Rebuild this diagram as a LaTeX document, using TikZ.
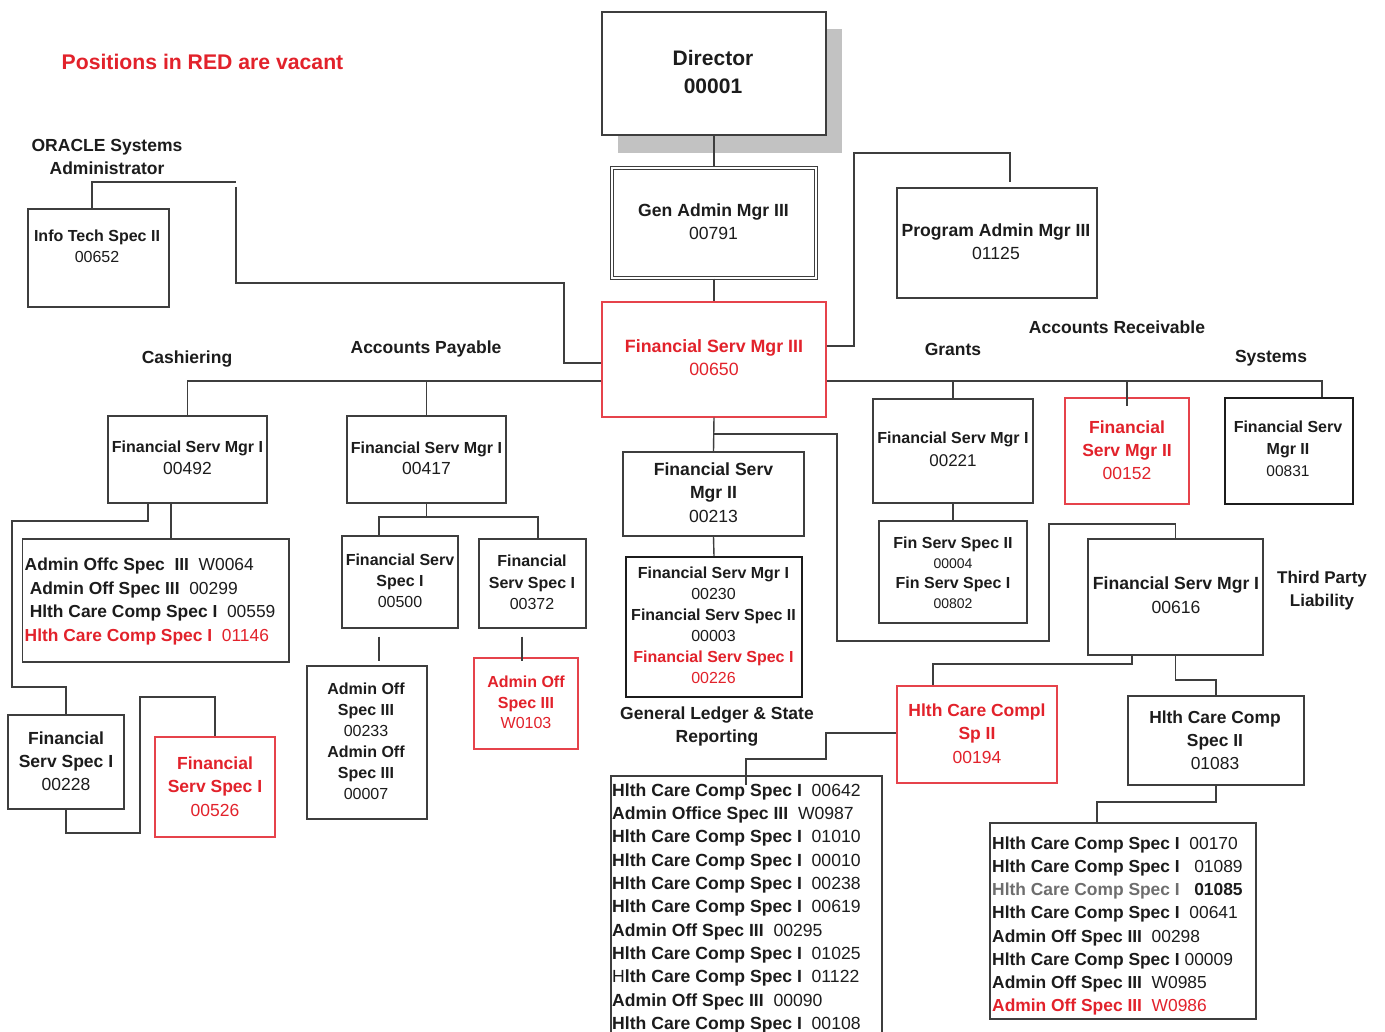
\documentclass[tikz,border=0pt]{standalone}
\usepackage{fontspec}
\setmainfont{Liberation Sans}
\usetikzlibrary{fit}
\definecolor{ink}{HTML}{1C1C1C}
\definecolor{vac}{HTML}{E2222B}
\definecolor{edge}{HTML}{3E3E3E}
\definecolor{shadowgray}{HTML}{C2C2C2}
\definecolor{faded}{HTML}{6E6E6E}
\newcommand\fsz[2]{\fontsize{#1}{#2}\selectfont}
\newcommand\numtxt[2][17]{{\fontsize{#1}{#1}\selectfont #2}}
\begin{document}
\begin{tikzpicture}[x=1pt,y=-1pt,
  box/.style={draw=edge, line width=1.3pt, fill=white, inner sep=0pt},
  vbox/.style={box, draw=vac!85!white},
  heavy/.style={box, draw=ink, line width=2pt},
  conn/.style={draw=edge, line width=1.4pt},
  txt/.style={inner sep=0pt, align=center, text=ink},
  vtxt/.style={txt, text=vac},
  head/.style={txt, font=\fsz{17.5}{23}\bfseries},
  row/.style={inner sep=0pt, anchor=base west, text=ink},
]
\useasboundingbox (0,0) rectangle (1385,1032);
\clip (0,0) rectangle (1385,1032);
\fill[white] (0,0) rectangle (1385,1032);

% ---------- boxes ----------
\fill[fill=shadowgray] (618,29) rectangle (842,153);
\node[box, fit={(602,12) (826,135)}] (dir) {};
\node[box, double=white, double distance=1.6pt, line width=1.1pt, fit={(611.9,167.9) (816.1,278.1)}] (gen) {};
\node[vbox, fit={(602,302) (826,417)}] (fsm3) {};
\node[box, fit={(897,188) (1097,298)}] (prog) {};
\node[box, fit={(28,209) (169,307)}] (itech) {};
\node[box, fit={(108,416) (267,503)}] (b492) {};
\node[box, fit={(347,416) (506,503)}] (b417) {};
\node[box, fit={(873,399) (1033,503)}] (b221) {};
\node[vbox, fit={(1065,398) (1189,504)}] (b152) {};
\node[heavy, fit={(1225,398) (1353,504)}] (b831) {};
\node[box, fit={(22.5,539) (289,662)}] (clist) {};
\node[box, fit={(8,715) (124,809)}] (b228) {};
\node[vbox, fit={(155,737) (275,837)}] (b526) {};
\node[box, fit={(342,536) (458,628)}] (b500) {};
\node[box, fit={(479,539) (586,628)}] (b372) {};
\node[box, fit={(307,666) (427,819)}] (aoff) {};
\node[vbox, fit={(474,658) (578,749)}] (w103) {};
\node[box, fit={(623,452) (804,536)}] (b213) {};
\node[heavy, fit={(626,557) (802,697)}] (glist) {};
\node[box, fit={(879,521) (1027,623)}] (b802) {};
\node[box, fit={(1088,539) (1263,655)}] (b616) {};
\node[vbox, fit={(897,686) (1057,783)}] (b194) {};
\node[box, fit={(1128,696) (1304,785)}] (b083) {};
\node[box, fit={(611,776) (882,1050)}] (blist) {};
\node[box, fit={(990,823) (1256,1019)}] (hlist) {};

% ---------- connectors ----------
\draw[conn] (dir.south) -- (gen.north);
\draw[conn] (gen.south) -- (fsm3.north);
\draw[conn, shorten >=5pt] ([yshift=13.5pt]fsm3.east) -- (854,346) -- (854,153) -| (prog.north -| 1010,0);

\coordinate (orA) at (236,182);
\coordinate (orB) at (236,187);
\draw[conn] ([xshift=-6.5pt]itech.north) |- (orA);
\draw[conn] (orB) -- (236,283) -| (564,363) -- (fsm3.west |- 0,363);

\draw[conn] (fsm3.west |- 0,381) -| (b492.north);
\draw[conn] (b417.north |- 0,381) -- (b417.north);
\draw[conn] (fsm3.east |- 0,381) -| (b831.north -| 1322,0);
\draw[conn] (b221.north |- 0,381) -- (b221.north);
\draw[conn] (b152.north |- 0,381) -- ([yshift=-9pt]b152.north);

\draw[conn] ([xshift=-39.5pt]b492.south) |- (12,521) -- (12,687) -| (b228.north);
\draw[conn] ([xshift=-16.5pt]b492.south) -- (clist.north -| 171,0);
\draw[conn] (b228.south) |- (140,833) -- (140,697) -| (b526.north);

\draw[conn] (b417.south) -- (b417.south |- 0,517);
\draw[conn] (b500.north -| 379,0) |- (538,517) -- (b372.north -| 538,0);
\draw[conn, shorten <=8pt, shorten >=4pt] (b500.south -| 379,0) -- (aoff.north -| 379,0);
\draw[conn, shorten <=8pt, shorten >=-4pt] (b372.south -| 522,0) -- (w103.north -| 522,0);

\draw[conn] (fsm3.south) -- (b213.north);
\coordinate (gj) at (714,434);
\draw[conn] (gj) -- (837,434) -- (837,641) -- (1049,641) -- (1049,524) -| (b616.north);
\draw[conn] (b213.south) -- (glist.north);

\draw[conn] (b221.south) -- (b802.north);

\draw[conn] ([xshift=-43.5pt]b616.south) |- (933,664) -- (b194.north -| 933,0);
\draw[conn] (b616.south) |- (1216,680) -- (b083.north);
\draw[conn] ([yshift=1.5pt]b194.west) -- (826,733) -- (826,759) -- (746,759) -- (blist.north -| 746,0) -- ++(0,10);
\draw[conn] (b083.south) |- (1097,802) -- (hlist.north -| 1097,0);

% ---------- headings and section labels ----------
\node[txt, text=vac, font=\fsz{21.2}{25}\bfseries] (legend) at (202.5,62) {Positions in RED are vacant};
\node[head] (oracle) at (107,156.5) {ORACLE Systems\\Administrator};
\node[head] (lcash) at (187,359) {Cashiering};
\node[head] (lap) at (426,349) {Accounts Payable};
\node[head] (lgr) at (953,349) {Grants};
\node[head] (lar) at (1117,327) {Accounts Receivable};
\node[head] (lsys) at (1271,358) {Systems};
\node[head, font=\fsz{17}{23}\bfseries] (ltpl) at (1322,590.5) {Third Party\\Liability};
\node[head, font=\fsz{17.5}{23.5}\bfseries] (lgl) at (717,726.5) {General Ledger \& State\\Reporting};

% ---------- box texts ----------
\node[txt, font=\fsz{21}{28}\bfseries] (tdir) at (713,72) {Director\\00001};
\node[txt, font=\fsz{17.6}{23}] (tgen) at (713.5,221.5) {\textbf{Gen Admin Mgr III}\\00791};
\node[vtxt, font=\fsz{17.8}{23}] (tfsm3) at (714,357.5) {\textbf{Financial Serv Mgr III}\\00650};
\node[txt, font=\fsz{17.6}{23}] (tprog) at (996,241.5) {\textbf{Program Admin Mgr III}\\01125};
\node[txt, font=\fsz{16}{21}] (titech) at (97,246.5) {\textbf{Info Tech Spec II}\\00652};

\node[txt, font=\fsz{16}{22}] (t492) at (187.5,458) {\textbf{Financial Serv Mgr I}\\\numtxt[17.5]{00492}};
\node[txt, font=\fsz{16}{21}] (t417) at (426.5,458.5) {\textbf{Financial Serv Mgr I}\\\numtxt[17.5]{00417}};
\node[txt, font=\fsz{16}{23}] (t221) at (953,449.5) {\textbf{Financial Serv Mgr I}\\\numtxt{00221}};
\node[vtxt, font=\fsz{17.5}{23}] (t152) at (1127,450) {\textbf{Financial}\\\textbf{Serv Mgr II}\\00152};
\node[txt, font=\fsz{16}{22}] (t831) at (1288,449) {\textbf{Financial Serv}\\\textbf{Mgr II}\\\numtxt[15.5]{00831}};

\node[txt, font=\fsz{17.5}{23}] (t228) at (66,761) {\textbf{Financial}\\\textbf{Serv Spec I}\\00228};
\node[vtxt, font=\fsz{17.5}{23.5}] (t526) at (215,786.5) {\textbf{Financial}\\\textbf{Serv Spec I}\\00526};
\node[txt, font=\fsz{16}{21}] (t500) at (400,581) {\textbf{Financial Serv}\\\textbf{Spec I}\\00500};
\node[txt, font=\fsz{16}{21.5}] (t372) at (532,582.5) {\textbf{Financial}\\\textbf{Serv Spec I}\\00372};
\node[txt, font=\fsz{16}{21}] (taoff) at (366,741.5) {\textbf{Admin Off}\\\textbf{Spec III}\\00233\\\textbf{Admin Off}\\\textbf{Spec III}\\00007};
\node[vtxt, font=\fsz{16}{20.5}] (tw103) at (526,702.5) {\textbf{Admin Off}\\\textbf{Spec III}\\W0103};

\node[txt, font=\fsz{17.6}{23.5}] (t213) at (713.5,492.5) {\textbf{Financial Serv}\\\textbf{Mgr II}\\00213};
\node[txt, font=\fsz{16}{21}] (tgl) at (713.5,625.5) {\textbf{Financial Serv Mgr I}\\00230\\\textbf{Financial Serv Spec II}\\00003\\\textcolor{vac}{\textbf{Financial Serv Spec I}}\\\textcolor{vac}{00226}};
\node[txt, font=\fsz{16}{20}] (t802) at (953,573) {\textbf{Fin Serv Spec II}\\\numtxt[14]{00004}\\\textbf{Fin Serv Spec I}\\\numtxt[14]{00802}};
\node[txt, font=\fsz{17.6}{24}] (t616) at (1176,595) {\textbf{Financial Serv Mgr I}\\00616};
\node[vtxt, font=\fsz{17.5}{23.5}] (t194) at (977,733.5) {\textbf{Hlth Care Compl}\\\textbf{Sp II}\\00194};
\node[txt, font=\fsz{17.4}{23}] (t083) at (1215,740) {\textbf{Hlth Care Comp}\\\textbf{Spec II}\\01083};

% ---------- staff lists ----------
\node[row, font=\fsz{17.4}{20}] (c1) at (24.5,570.3) {\textbf{Admin Offc Spec\ \ III}\ \ W0064};
\node[row, font=\fsz{17.4}{20}] (c2) at (29.6,594.3) {\textbf{Admin Off Spec III}\ \ 00299};
\node[row, font=\fsz{17.4}{20}] (c3) at (29.6,617.3) {\textbf{Hlth Care Comp Spec I}\ \ 00559};
\node[row, font=\fsz{17.4}{20}, text=vac] (c4) at (24.5,641.3) {\textbf{Hlth Care Comp Spec I}\ \ 01146};

\foreach \r [count=\i] in {
  {\textbf{Hlth Care Comp Spec I}\ \ 00642},
  {\textbf{Admin Office Spec III}\ \ W0987},
  {\textbf{Hlth Care Comp Spec I}\ \ 01010},
  {\textbf{Hlth Care Comp Spec I}\ \ 00010},
  {\textbf{Hlth Care Comp Spec I}\ \ 00238},
  {\textbf{Hlth Care Comp Spec I}\ \ 00619},
  {\textbf{Admin Off Spec III}\ \ 00295},
  {\textbf{Hlth Care Comp Spec I}\ \ 01025},
  {\textmd{H}\textbf{lth Care Comp Spec I}\ \ 01122},
  {\textbf{Admin Off Spec III}\ \ 00090},
  {\textbf{Hlth Care Comp Spec I}\ \ 00108}}
  \node[row, font=\fsz{17.6}{20}] (big\i) at (612,{796.3+23.3*(\i-1)}) {\r};

\foreach \r [count=\i] in {
  {\textbf{Hlth Care Comp Spec I}\ \ 00170},
  {\textbf{Hlth Care Comp Spec I}\ \ \ 01089},
  {\textcolor{faded}{\textbf{Hlth Care Comp Spec I}}\ \ \ \textbf{01085}},
  {\textbf{Hlth Care Comp Spec I}\ \ 00641},
  {\textbf{Admin Off Spec III}\ \ 00298},
  {\textbf{Hlth Care Comp Spec I}\ 00009},
  {\textbf{Admin Off Spec III}\ \ W0985},
  {\textcolor{vac}{\textbf{Admin Off Spec III}\ \ W0986}}}
  \node[row, font=\fsz{17.4}{20}] (hcc\i) at (992,{849.3+23.2*(\i-1)}) {\r};
\end{tikzpicture}
\end{document}
